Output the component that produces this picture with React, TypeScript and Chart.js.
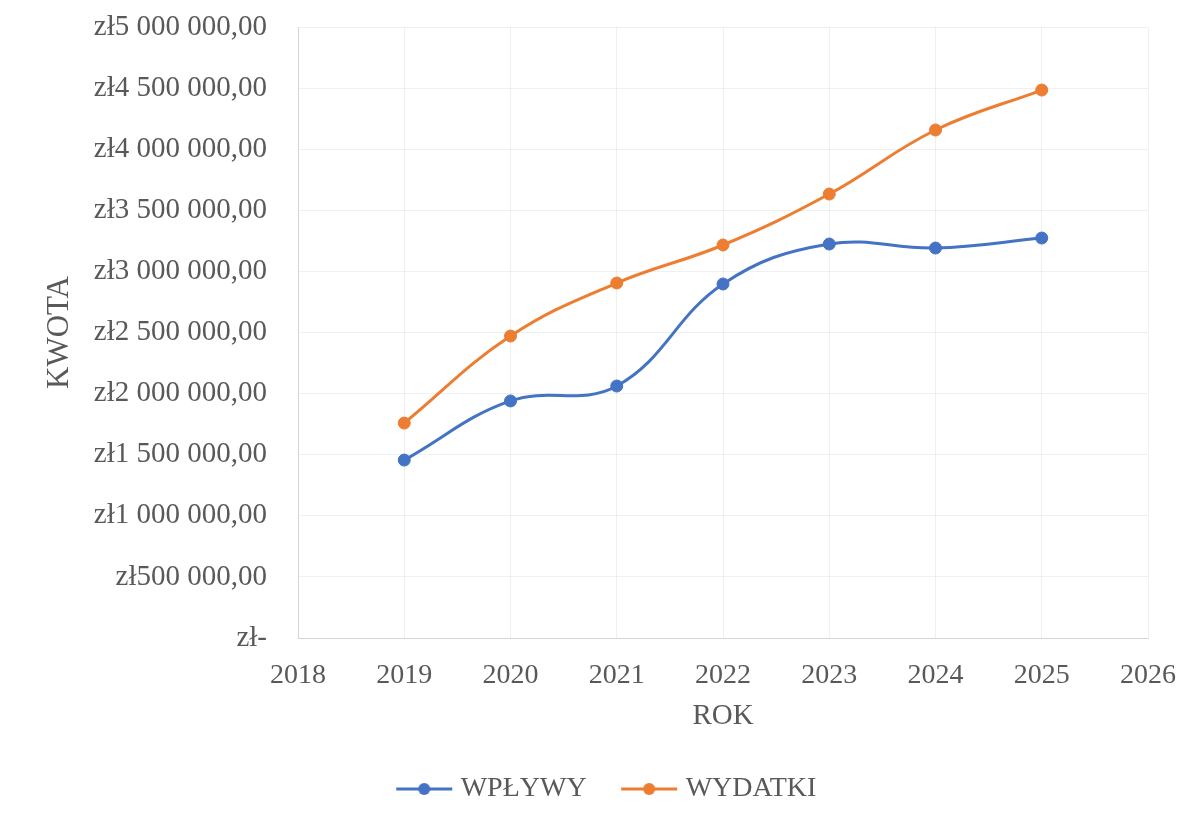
import { useEffect, useRef } from "react";
import { Chart, registerables } from "chart.js";

Chart.register(...registerables);

const YEARS = [2019, 2020, 2021, 2022, 2023, 2024, 2025];
const WPLYWY = [1456000, 1940000, 2062000, 2897000, 3224000, 3191000, 3273000];
const WYDATKI = [1759000, 2471000, 2905000, 3216000, 3633000, 4157000, 4484000];
const SERIES_NAMES = ["WPŁYWY", "WYDATKI"];
const X_MIN = 2018;
const X_MAX = 2026;
const Y_MAX = 5000000;
const Y_STEP = 500000;

const BLUE = "#4472C4";
const ORANGE = "#ED7D31";
const TEXT = "#595959";
const FONT = "'Liberation Serif', 'Times New Roman', serif";

function formatPLN(v: number): string {
  if (v === 0) return "zł-";
  const s = Math.round(v)
    .toString()
    .replace(/\B(?=(\d{3})+(?!\d))/g, " ");
  return "zł" + s + ",00";
}

function legendMarker(color: string): HTMLCanvasElement {
  const c = document.createElement("canvas");
  c.width = 90;
  c.height = 16;
  const ctx = c.getContext("2d")!;
  ctx.strokeStyle = color;
  ctx.lineWidth = 3;
  ctx.beginPath();
  ctx.moveTo(32, 8);
  ctx.lineTo(88, 8);
  ctx.stroke();
  ctx.fillStyle = color;
  ctx.beginPath();
  ctx.arc(60, 8, 6, 0, Math.PI * 2);
  ctx.fill();
  return c;
}

export default function App() {
  const ref = useRef<HTMLCanvasElement | null>(null);

  useEffect(() => {
    if (!ref.current) return;
    const markers = [legendMarker(BLUE), legendMarker(ORANGE)];
    const colors = [BLUE, ORANGE];
    const chart = new Chart(ref.current, {
      type: "scatter",
      data: {
        datasets: [
          {
            label: SERIES_NAMES[0],
            data: YEARS.map((y, i) => ({ x: y, y: WPLYWY[i] })),
            showLine: true,
            borderColor: BLUE,
            backgroundColor: BLUE,
            borderWidth: 3,
            pointRadius: 6,
            pointBorderWidth: 1,
            pointBorderColor: BLUE,
            pointBackgroundColor: BLUE,
            tension: 0.4,
          },
          {
            label: SERIES_NAMES[1],
            data: YEARS.map((y, i) => ({ x: y, y: WYDATKI[i] })),
            showLine: true,
            borderColor: ORANGE,
            backgroundColor: ORANGE,
            borderWidth: 3,
            pointRadius: 6,
            pointBorderWidth: 1,
            pointBorderColor: ORANGE,
            pointBackgroundColor: ORANGE,
            tension: 0.4,
          },
        ],
      },
      options: {
        animation: false,
        responsive: true,
        maintainAspectRatio: false,
        layout: { padding: { left: 40, right: 52, top: 27, bottom: 9 } },
        plugins: {
          tooltip: { enabled: false },
          legend: {
            position: "bottom",
            labels: {
              usePointStyle: true,
              pointStyleWidth: 75,
              padding: 10,
              color: TEXT,
              font: { family: FONT, size: 28 },
              generateLabels: (ch: any) =>
                ch.data.datasets.map((ds: any, i: number) => ({
                  text: ds.label,
                  pointStyle: markers[i],
                  fillStyle: colors[i],
                  strokeStyle: colors[i],
                  lineWidth: 0,
                  hidden: false,
                  datasetIndex: i,
                  fontColor: TEXT,
                })),
            },
          },
        },
        scales: {
          x: {
            type: "linear",
            min: X_MIN,
            max: X_MAX,
            afterFit: (s: any) => {
              s.height = 127;
            },
            ticks: {
              stepSize: 1,
              padding: 21,
              color: TEXT,
              font: { family: FONT, size: 28 },
              callback: (v: any) => String(v),
            },
            grid: { color: "rgba(0,0,0,0.06)", drawTicks: false },
            border: { color: "#d4d4d4", width: 1 },
            title: {
              display: true,
              text: "ROK",
              color: TEXT,
              font: { family: FONT, size: 29 },
              padding: { top: 0, bottom: 31 },
            },
          },
          y: {
            type: "linear",
            min: 0,
            max: Y_MAX,
            afterFit: (s: any) => {
              s.width = 258;
              s.paddingTop = 0;
              s.paddingBottom = 0;
            },
            ticks: {
              stepSize: Y_STEP,
              padding: 31,
              color: TEXT,
              font: { family: FONT, size: 29 },
              callback: (v: any) => formatPLN(Number(v)),
            },
            grid: { color: "rgba(0,0,0,0.06)", drawTicks: false },
            border: { color: "#d4d4d4", width: 1 },
            title: {
              display: true,
              text: "KWOTA",
              color: TEXT,
              font: { family: FONT, size: 31 },
              padding: { top: 1, bottom: 0 },
            },
          },
        },
      },
    });
    return () => chart.destroy();
  }, []);

  return (
    <div
      style={{
        position: "absolute",
        left: 0,
        top: 0,
        width: 1200,
        height: 822,
        background: "#ffffff",
      }}
    >
      <canvas ref={ref} />
    </div>
  );
}
